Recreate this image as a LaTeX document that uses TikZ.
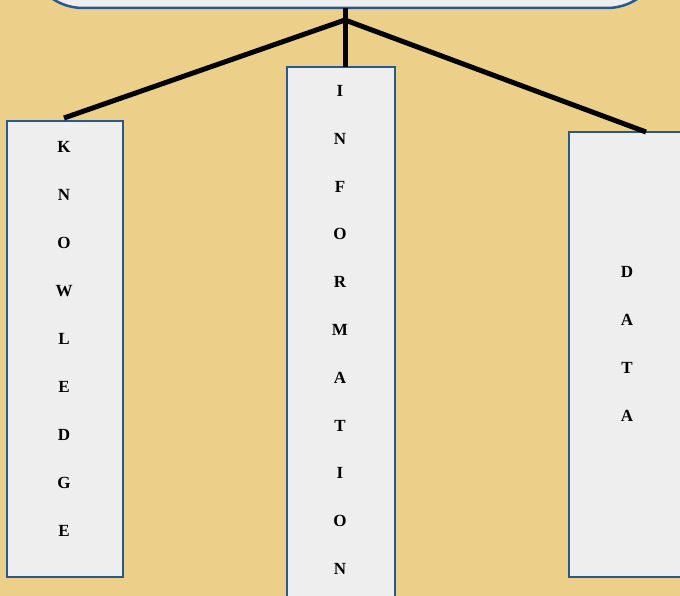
\documentclass[tikz,border=0pt]{standalone}
\usepackage{fontspec}
\setmainfont{Liberation Serif}
\definecolor{papyrus}{RGB}{236,208,138}
\definecolor{boxblue}{RGB}{40,88,140}
\definecolor{boxfill}{RGB}{238,238,238}
\begin{document}
\begin{tikzpicture}[x=1pt,y=-1pt,
  panel/.style={draw=boxblue,line width=2.5pt,fill=boxfill},
  link/.style={line width=5pt,black},
  letter/.style={font=\bfseries\fontsize{17}{17}\selectfont,inner sep=0pt}]
\useasboundingbox (0,0) rectangle (680,596);
\fill[papyrus] (0,0) rectangle (680,596);
% top rounded box (cut off)
\draw[panel,rounded corners=55pt] (28,-90) rectangle (662,8);
\coordinate (topc) at (345,8);
% boxes
\draw[panel] (7,121) rectangle (123,577);
\draw[panel] (287,67) rectangle (395,610);
\draw[panel] (569,132) rectangle (690,577);
\coordinate (j) at (345,20);
\coordinate (lk) at (64,118);
\coordinate (ik) at (345,67);
\coordinate (dk) at (646,132);
\draw[link] (topc) -- (ik);
\draw[link] (j) -- (lk);
\draw[link] (j) -- (dk);
% letters
\foreach \t [count=\i from 0] in {K,N,O,W,L,E,D,G,E}
  \node[letter] (k\i) at (64,147+48*\i) {\t};
\foreach \t [count=\i from 0] in {I,N,F,O,R,M,A,T,I,O,N}
  \node[letter] (n\i) at (340,91+47.8*\i) {\t};
\foreach \t [count=\i from 0] in {D,A,T,A}
  \node[letter] (d\i) at (627,272+48*\i) {\t};
\end{tikzpicture}
\end{document}
